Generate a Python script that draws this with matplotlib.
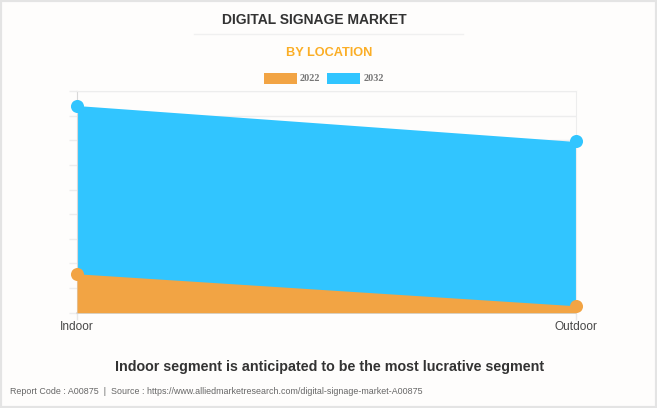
import matplotlib
matplotlib.use("Agg")
import matplotlib.pyplot as plt
from matplotlib.patches import Rectangle
from matplotlib.lines import Line2D

categories = ["Indoor", "Outdoor"]
values_2022 = [1.58, 0.28]
values_2032 = [8.41, 6.95]
series_names = ["2022", "2032"]
y_ticks = list(range(0, 10))

W, H = 657, 408
BG = "#FEFDFC"
ORANGE = "#F2A444"
BLUE = "#31C5FF"
plt.rcParams["font.family"] = ["Liberation Sans", "DejaVu Sans"]

fig = plt.figure(figsize=(W / 100, H / 100), dpi=100, facecolor=BG)
L, R, T, B = 77, 576, 91, 312.7
ax = fig.add_axes([L / W, 1 - B / H, (R - L) / W, (B - T) / H], facecolor="none")
x = [0, 1]
ax.set_xlim(0, 1)
ax.set_ylim(0, 9)

ax.fill_between(x, 0, values_2032, color=BLUE, lw=0, zorder=2)
ax.fill_between(x, 0, values_2022, color=ORANGE, lw=0, zorder=3)
ax.plot(x, values_2032, ls="none", marker="o", ms=9.4, color=BLUE, mew=0, clip_on=False, zorder=4)
ax.plot(x, values_2022, ls="none", marker="o", ms=9.4, color=ORANGE, mew=0, clip_on=False, zorder=5)

ax.set_yticks(y_ticks)
ax.set_yticklabels([])
ax.set_xticks(x)
ax.set_xticklabels(categories, fontsize=8.6, color="#484848")
ax.tick_params(axis="y", length=5.8, width=1, color="#EDEDED")
ax.tick_params(axis="x", length=5, width=1, color="#E8E8E8", pad=1)
ax.grid(axis="y", color="#EDEDED", lw=1, zorder=1)
for s in ["top", "right"]:
    ax.spines[s].set_color("#EDEDED")
ax.spines["left"].set_color("#D8D8D8")
ax.spines["bottom"].set_color("#D6D6D6")
ax.spines["left"].set_linewidth(0.8)
ax.spines["bottom"].set_linewidth(1.2)

def px(xp, yp):
    return xp / W, 1 - yp / H

fig.text(*px(314.5, 20), "DIGITAL SIGNAGE MARKET", ha="center", va="center",
         fontsize=10.0, fontweight="bold", color="#333333")
fig.add_artist(Line2D([194 / W, 463 / W], [1 - 33.5 / H] * 2, color="#F0F0F0", lw=1))
fig.text(*px(329, 53), "BY LOCATION", ha="center", va="center",
         fontsize=9.2, fontweight="bold", color="#FBAE26")

# legend
for x0, col, name, tx in [(264, ORANGE, series_names[0], 300), (327, BLUE, series_names[1], 363.5)]:
    fig.add_artist(Rectangle((x0 / W, 1 - 84 / H), 33 / W, 11 / H, transform=fig.transFigure,
                             facecolor=col, edgecolor=col, lw=0))
    fig.text(*px(tx, 78.5), name, ha="left", va="center", fontsize=7.4,
             fontweight="bold", color="#777777", family=["Liberation Serif"])

fig.text(*px(329.5, 367), "Indoor segment is anticipated to be the most lucrative segment",
         ha="center", va="center", fontsize=10.3, fontweight="bold", color="#333333")
fig.text(*px(10, 391), "Report Code : A00875  |  Source : https://www.alliedmarketresearch.com/digital-signage-market-A00875",
         ha="left", va="center", fontsize=6.43, color="#666666")

# outer frame
fig.add_artist(Rectangle((0, 0), 1, 1, transform=fig.transFigure, fill=False,
                         edgecolor="#E4E4E4", lw=3))
fig.savefig("out.png", dpi=100, facecolor=BG)
